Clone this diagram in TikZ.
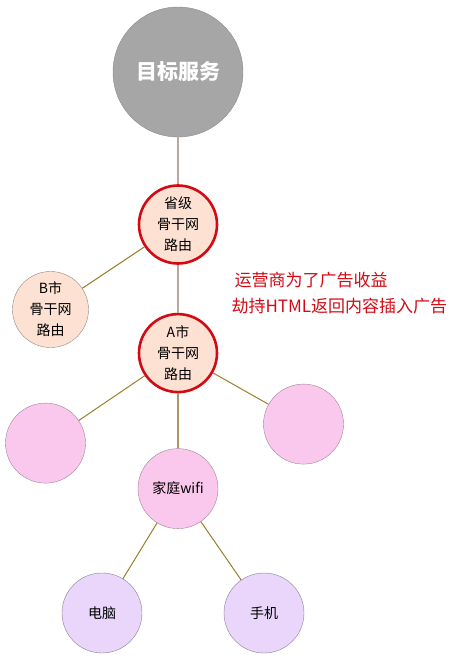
\documentclass[tikz,border=0pt]{standalone}
\usepackage{fontspec}
\setmainfont{Noto Sans CJK SC}
\usetikzlibrary{shapes,arrows,positioning}

\definecolor{trunkgray}{HTML}{BCA79C}
\definecolor{branchol}{HTML}{9A7F2C}
\definecolor{wifiline}{HTML}{AE9568}
\definecolor{routerred}{HTML}{D20A14}
\definecolor{peach}{HTML}{FDE2D4}
\definecolor{pinkfill}{HTML}{FAC8EC}
\definecolor{lavfill}{HTML}{E9D6FA}

\begin{document}
\begin{tikzpicture}[x=1pt, y=-1pt, node distance=48pt]

            % Define block styles
            \tikzstyle{hub} = [circle, draw=black!45, fill=black!35, text=white, font=\bfseries\fontsize{21}{25}\selectfont, minimum size=130pt, inner sep=0pt]
            \tikzstyle{router} = [circle, draw=routerred, line width=2.6pt, fill=peach, align=center, font=\fontsize{14}{21}\selectfont, minimum size=78pt, inner sep=0pt]
            \tikzstyle{cityb} = [circle, draw=black!40!peach, fill=peach, align=center, font=\fontsize{14}{21}\selectfont, minimum size=76pt, inner sep=0pt]
            \tikzstyle{home} = [circle, draw=black!35!pinkfill, fill=pinkfill, font=\fontsize{14}{21}\selectfont, minimum size=80pt, inner sep=0pt]
            \tikzstyle{device} = [circle, draw=black!40!lavfill, fill=lavfill, font=\fontsize{14}{21}\selectfont, minimum size=80pt, inner sep=0pt]
            \tikzstyle{trunk} = [draw=trunkgray, line width=1.2pt]
            \tikzstyle{branch} = [draw=branchol, line width=1pt]

            \useasboundingbox (0,0) rectangle (454,663);

            % Nodes
            \node [hub] (target) at (178,72) {目标服务};
            \node [router, below=47pt of target] (prov) {省级\\骨干网\\路由};
            \node [cityb, left=49pt of prov, yshift=-85pt] (cityB) {B市\\骨干网\\路由};
            \node [router, below=48pt of prov] (cityA) {A市\\骨干网\\路由};
            \node [home, left=52pt of cityA, yshift=-90pt] (leftpink) {};
            \node [home, right=45pt of cityA, yshift=-71pt] (rightpink) {};
            \node [home, below=55pt of cityA] (wifi) {家庭wifi};
            \node [device, below=44pt of wifi, xshift=-76pt] (pc) {电脑};
            \node [device, below=44pt of wifi, xshift=86pt] (phone) {手机};
            \node [text=routerred, align=left, anchor=west, font=\fontsize{17}{26}\selectfont] (note) at (228,293) {\hspace*{3pt}运营商为了广告收益\\劫持HTML返回内容插入广告};

            % Lines
            \path [trunk] (target) -- (prov);
            \path [trunk] (prov) -- (cityA);
            \path [branch] (prov) -- (cityB);
            \path [branch] (cityA) -- (leftpink);
            \path [branch] (cityA) -- (rightpink);
            \path [draw=wifiline, line width=1.2pt] (cityA) -- (wifi);
            \path [branch] (wifi) -- (pc);
            \path [branch] (wifi) -- (phone);

        \end{tikzpicture}
\end{document}
